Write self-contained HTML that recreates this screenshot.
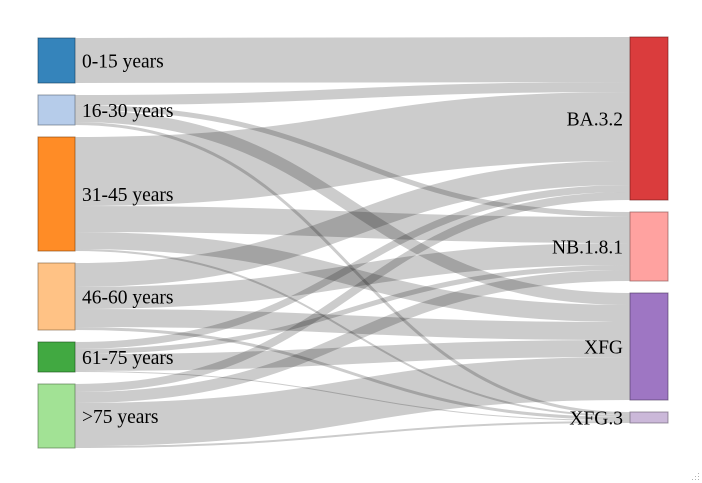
<!DOCTYPE html>
<html>
<head>
<meta charset="utf-8">
<style>
  html,body{margin:0;padding:0;background:#fff;}
  body{width:702px;height:483px;overflow:hidden;}
  svg{display:block;}
  .lk{fill:none;stroke:#000;stroke-opacity:0.2;}
  svg text{font-family:"Liberation Serif","DejaVu Serif",serif;font-size:19.5px;fill:#000;}
</style>
</head>
<body>
<svg width="702" height="483" viewBox="0 0 702 483" xmlns="http://www.w3.org/2000/svg">
  <g>
    <path class="lk" stroke-width="45" d="M75,60.5 C352.5,60.5 352.5,59.5 630,59.5"/>
    <path class="lk" stroke-width="10" d="M75,100 C352.5,100 352.5,87 630,87"/>
    <path class="lk" stroke-width="5" d="M75,107.5 C352.5,107.5 352.5,214.5 630,214.5"/>
    <path class="lk" stroke-width="12" d="M75,116 C352.5,116 352.5,299 630,299"/>
    <path class="lk" stroke-width="3" d="M75,123.5 C352.5,123.5 352.5,413.5 630,413.5"/>
    <path class="lk" stroke-width="69" d="M75,171.5 C352.5,171.5 352.5,126.5 630,126.5"/>
    <path class="lk" stroke-width="26" d="M75,219 C352.5,219 352.5,230 630,230"/>
    <path class="lk" stroke-width="17" d="M75,240.5 C352.5,240.5 352.5,313.5 630,313.5"/>
    <path class="lk" stroke-width="2" d="M75,250 C352.5,250 352.5,416 630,416"/>
    <path class="lk" stroke-width="24" d="M75,275 C352.5,275 352.5,173 630,173"/>
    <path class="lk" stroke-width="22" d="M75,298 C352.5,298 352.5,254 630,254"/>
    <path class="lk" stroke-width="18" d="M75,318 C352.5,318 352.5,331 630,331"/>
    <path class="lk" stroke-width="3" d="M75,328.5 C352.5,328.5 352.5,418.5 630,418.5"/>
    <path class="lk" stroke-width="7" d="M75,345.5 C352.5,345.5 352.5,188.5 630,188.5"/>
    <path class="lk" stroke-width="5" d="M75,351.5 C352.5,351.5 352.5,267.5 630,267.5"/>
    <path class="lk" stroke-width="17" d="M75,362.5 C352.5,362.5 352.5,348.5 630,348.5"/>
    <path class="lk" stroke-width="1" d="M75,371.5 C352.5,371.5 352.5,420.5 630,420.5"/>
    <path class="lk" stroke-width="8" d="M75,388 C352.5,388 352.5,196 630,196"/>
    <path class="lk" stroke-width="11" d="M75,397.5 C352.5,397.5 352.5,275.5 630,275.5"/>
    <path class="lk" stroke-width="43" d="M75,424.5 C352.5,424.5 352.5,378.5 630,378.5"/>
    <path class="lk" stroke-width="2" d="M75,447 C352.5,447 352.5,422 630,422"/>
  </g>
  <g fill-opacity="0.9" stroke-opacity="0.6">
    <rect x="38" y="38" width="37" height="45" fill="#1f77b4" stroke="#0f3a58"/>
    <rect x="38" y="95" width="37" height="30" fill="#aec7e8" stroke="#556171"/>
    <rect x="38" y="137" width="37" height="114" fill="#ff7f0e" stroke="#7d3e07"/>
    <rect x="38" y="263" width="37" height="67" fill="#ffbb78" stroke="#7d5b3a"/>
    <rect x="38" y="342" width="37" height="30" fill="#2ca02c" stroke="#154e15"/>
    <rect x="38" y="384" width="37" height="64" fill="#98df8a" stroke="#4a6d43"/>
    <rect x="630" y="37" width="38" height="163" fill="#d62728" stroke="#681313"/>
    <rect x="630" y="212" width="38" height="69" fill="#ff9896" stroke="#7d4a49"/>
    <rect x="630" y="293" width="38" height="107" fill="#9467bd" stroke="#48325c"/>
    <rect x="630" y="412" width="38" height="11" fill="#c5b0d5" stroke="#605668"/>
  </g>
  <g font-family="Liberation Serif, DejaVu Serif, serif" font-size="19.5">
    <text x="82" y="67.3">0-15 years</text>
    <text x="82" y="116.8">16-30 years</text>
    <text x="82" y="200.8">31-45 years</text>
    <text x="82" y="303.3">46-60 years</text>
    <text x="82" y="363.8">61-75 years</text>
    <text x="82" y="422.8">&gt;75 years</text>
    <text x="623" y="125.3" text-anchor="end">BA.3.2</text>
    <text x="623" y="253.3" text-anchor="end">NB.1.8.1</text>
    <text x="623" y="353.3" text-anchor="end">XFG</text>
    <text x="623" y="424.3" text-anchor="end">XFG.3</text>
  </g>
  <g fill="#b0b0b0">
    <rect x="698" y="473" width="1" height="1"/>
    <rect x="695" y="476" width="1" height="1"/>
    <rect x="698" y="476" width="1" height="1"/>
    <rect x="692" y="479" width="1" height="1"/>
    <rect x="695" y="479" width="1" height="1"/>
    <rect x="698" y="479" width="1" height="1"/>
  </g>
</svg>
</body>
</html>
